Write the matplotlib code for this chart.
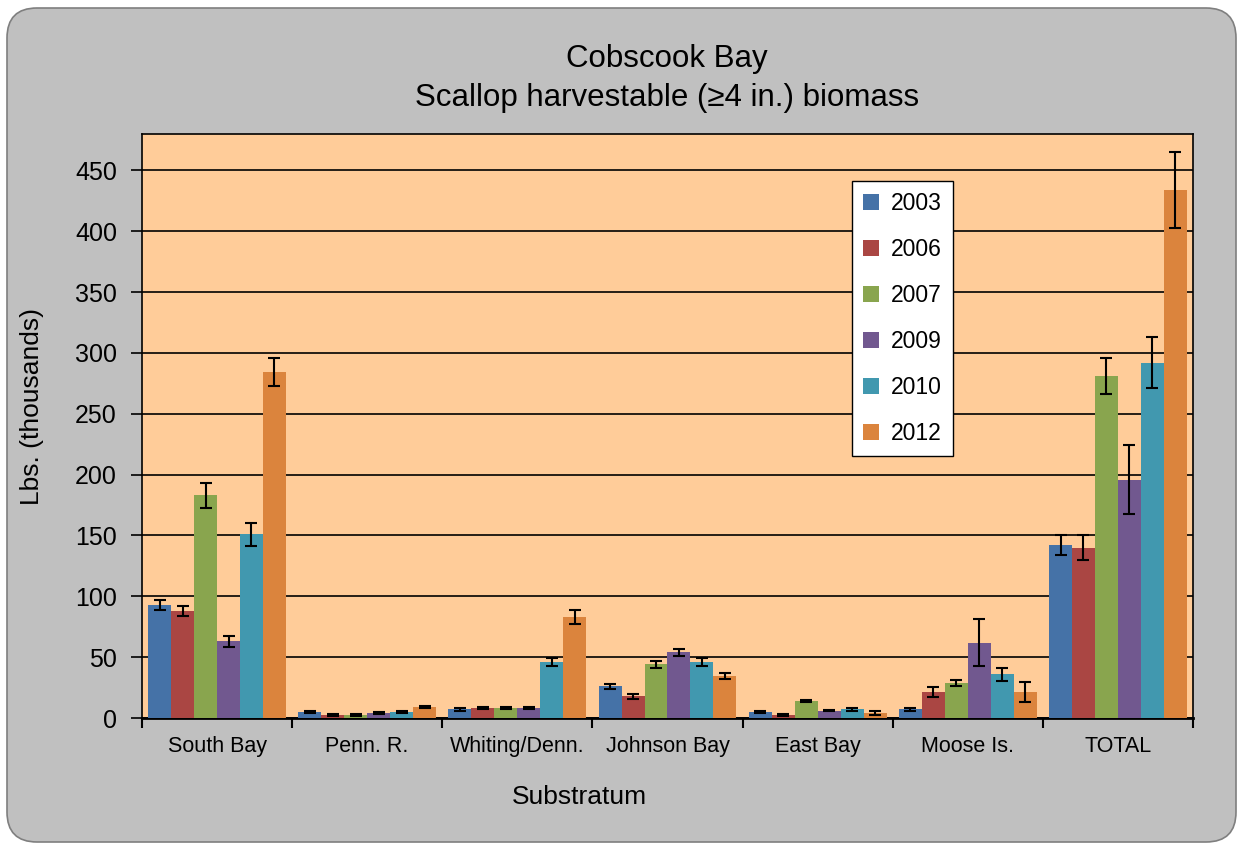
import numpy as np
import matplotlib.pyplot as plt
from matplotlib.patches import FancyBboxPatch
from matplotlib.transforms import IdentityTransform

plt.rcParams['font.family'] = ['Liberation Sans', 'DejaVu Sans']

cats = ['South Bay', 'Penn. R.', 'Whiting/Denn.', 'Johnson Bay', 'East Bay', 'Moose Is.', 'TOTAL']
years = ['2003', '2006', '2007', '2009', '2010', '2012']

v2003 = [93, 5, 7, 26, 5, 7, 142]
e2003 = [4, 1, 1.5, 2, 1, 1, 8]
v2006 = [88, 2.5, 8, 18, 2.5, 21.5, 140]
e2006 = [4, 1, 1, 2, 1, 4, 10]
v2007 = [183, 2.5, 8, 44, 14, 28.5, 281]
e2007 = [10, 1, 1, 2.5, 0.5, 2.5, 15]
v2009 = [63, 4, 8, 54, 6, 62, 196]
e2009 = [4.5, 1, 1, 3, 0.5, 19, 28]
v2010 = [151, 5, 46, 46, 7, 36, 292]
e2010 = [9.5, 0.5, 3.5, 3, 1, 5.5, 21]
v2012 = [284, 9, 83, 34.5, 4, 21.5, 434]
e2012 = [11.5, 1, 6, 2.5, 1.5, 8, 31]

vals = [v2003, v2006, v2007, v2009, v2010, v2012]
errs = [e2003, e2006, e2007, e2009, e2010, e2012]
colors = ['#4572A7', '#AA4643', '#89A54E', '#71588F', '#4198AF', '#DB843D']

fig = plt.figure(figsize=(12.43, 8.48), dpi=100)
fig.patch.set_facecolor('white')
# rounded gray chart area
bg = FancyBboxPatch((7, 6), 1229, 834, boxstyle='round,pad=0,rounding_size=30',
                    facecolor='#C0C0C0', edgecolor='#7F7F7F', linewidth=1.2,
                    transform=IdentityTransform(), zorder=-10)
fig.add_artist(bg)

ax = fig.add_axes([0.1142, 0.1533, 0.8456, 0.6887])
ax.set_zorder(5)
ax.set_facecolor('#FFCC99')

x = np.arange(len(cats))
w = 0.153
for i, (v, e, c, yr) in enumerate(zip(vals, errs, colors, years)):
    ax.bar(x + (i - 2.5) * w, v, w, color=c, label=yr, zorder=3,
           yerr=e, error_kw=dict(ecolor='black', elinewidth=1.5, capsize=4.5, capthick=1.5, zorder=4))

ax.set_xlim(-0.5, len(cats) - 0.5)
ax.set_ylim(0, 480)
ax.set_yticks(range(0, 451, 50))
ax.yaxis.grid(True, color='black', linewidth=1.2, zorder=1)
ax.set_axisbelow(True)

ax.set_xticks(x)
ax.set_xticklabels(cats, fontsize=15.5)
ax.tick_params(axis='x', length=0, pad=13)
ax.set_xticks(np.arange(-0.5, len(cats), 1), minor=True)
ax.tick_params(axis='x', which='minor', length=7, width=1.5, direction='out')
ax.tick_params(axis='y', labelsize=18, length=8, width=1.2, pad=10)

for s in ax.spines.values():
    s.set_color('black')
    s.set_linewidth(1.2)
ax.spines['bottom'].set_linewidth(2)

fig.text(0.5367, 0.930, 'Cobscook Bay', ha='center', va='center', fontsize=22.5)
fig.text(0.5367, 0.884, 'Scallop harvestable (\u22654 in.) biomass', ha='center', va='center', fontsize=22.5)
fig.text(0.466, 0.06, 'Substratum', ha='center', va='center', fontsize=19)
fig.text(0.0257, 0.521, 'Lbs. (thousands)', ha='center', va='center', rotation=90, fontsize=19)

leg = ax.legend(loc='upper left', bbox_to_anchor=(0.6755, 0.9195), fontsize=16.5,
                frameon=True, fancybox=False, edgecolor='black', framealpha=1,
                handlelength=0.7, handleheight=0.7, handletextpad=0.5,
                labelspacing=1.0, borderpad=0.5, borderaxespad=0)
leg.get_frame().set_linewidth(1.0)

fig.savefig('out.png', dpi=100)
